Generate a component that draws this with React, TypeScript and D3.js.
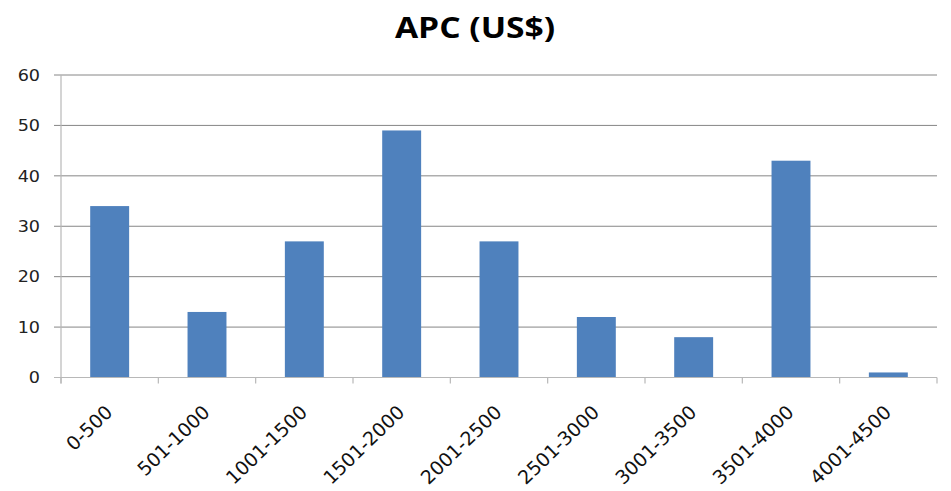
import React from "react";
import * as d3 from "d3";

const categories = ["0-500", "501-1000", "1001-1500", "1501-2000", "2001-2500", "2501-3000", "3001-3500", "3501-4000", "4001-4500"];
const values = [34, 13, 27, 49, 27, 12, 8, 43, 1];
const yTicks = [0, 10, 20, 30, 40, 50, 60];
const title = "APC (US$)";

export default function App() {
  const W = 951, H = 491;
  const left = 61, right = 937, top = 75, bottom = 377.5;
  const x = d3.scaleBand<string>().domain(categories).range([left, right]).paddingInner(0.6).paddingOuter(0.3);
  const xb = d3.scaleBand<string>().domain(categories).range([left, right]);
  const y = d3.scaleLinear().domain([0, 60]).range([bottom, top]);
  const sx = 1.2;
  return (
    <svg width={W} height={H} style={{ position: "absolute", left: 0, top: 0, background: "#fff" }}>
      <text transform={`translate(475,38) scale(${sx},1)`} textAnchor="middle" fontFamily="'Open Sans', sans-serif" fontWeight="bold" fontSize={28} fill="#000">{title}</text>
      {yTicks.map((t) => (
        <g key={t}>
          {t > 0 && <line x1={54} x2={right} y1={y(t)} y2={y(t)} stroke="#868686" strokeWidth={1} />}
          <text transform={`translate(40,${y(t)}) scale(1.1,1)`} dy="0.36em" textAnchor="end" fontFamily="'DejaVu Sans', Verdana, sans-serif" fontSize={16} fill="#222">{t}</text>
        </g>
      ))}
      <line x1={54} x2={left} y1={y(0)} y2={y(0)} stroke="#b8b8b8" />
      {values.map((v, i) => (
        <rect key={i} x={x(categories[i])} y={y(v)} width={x.bandwidth()} height={y(0) - y(v)} fill="#4F81BD" />
      ))}
      <line x1={left} x2={left} y1={top} y2={bottom + 6} stroke="#b8b8b8" strokeWidth={1.2} />
      <line x1={left} x2={right} y1={bottom} y2={bottom} stroke="#b8b8b8" strokeWidth={1.2} />
      {categories.concat(["__end"]).map((c, i) => {
        const xx = left + i * xb.step();
        return <line key={"t" + i} x1={xx} x2={xx} y1={bottom} y2={bottom + 6} stroke="#b8b8b8" strokeWidth={1.2} />;
      })}
      {categories.map((c) => {
        const cx = (xb(c) as number) + xb.bandwidth() / 2 + 4;
        const cy = bottom + 36;
        return (
          <text key={c} transform={`translate(${cx},${cy}) rotate(-44)`} textAnchor="end" fontFamily="'DejaVu Sans', sans-serif" fontSize={19} fill="#111">{c}</text>
        );
      })}
    </svg>
  );
}
